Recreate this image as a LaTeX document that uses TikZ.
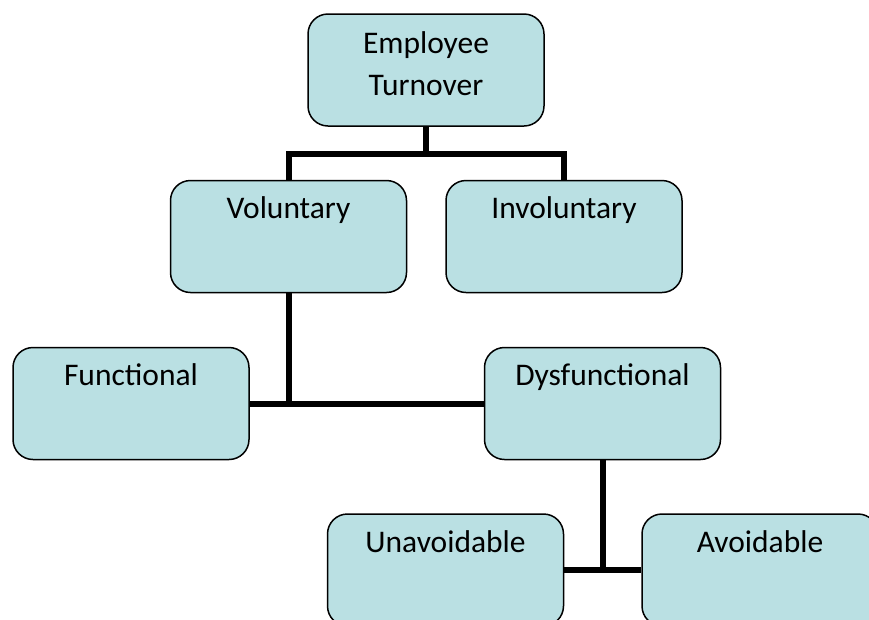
\documentclass[tikz,border=0pt]{standalone}
\usepackage{fontspec}
\setmainfont{Carlito}
\definecolor{boxfill}{RGB}{186,224,227}

\begin{document}
\begin{tikzpicture}[x=1pt,y=-1pt,
  boxnode/.style={rectangle,rounded corners=20pt,draw=black,line width=1.5pt,fill=boxfill,
    minimum width=236pt,minimum height=112pt,inner sep=0pt,
    text height=38pt,text depth=74pt,font=\fontsize{31.5}{42}\selectfont},
  link/.style={line width=6pt}]

\clip (0,0) rectangle (869,619);
\fill[white] (0,0) rectangle (869,619);

\node [boxnode,align=center,text height=81pt,text depth=31pt] (turn) at (426,70) {Employee\\Turnover};

\node [boxnode] (vol)   at (288.5,236.5) {Voluntary};
\node [boxnode] (invol) at (564,236.5)   {Involuntary};

\node [boxnode] (func) at (131,403.5)   {Functional};
\node [boxnode] (dys)  at (602.5,403.5) {Dysfunctional};

\node [boxnode] (unav) at (445.5,570) {Unavoidable};
\node [boxnode] (av)   at (760,570)   {Avoidable};

\draw [link] (turn.south) -- ++(0,27) coordinate (fork);
\draw [link] (fork) -| (vol.north);
\draw [link] (fork) -| (invol.north);

\draw [link] (func.east) -- (dys.west);
\draw [link] (vol.south) -- (vol.south |- func.east);

\draw [link] (unav.east) -- (av.west);
\draw [link] (dys.south) -- (dys.south |- unav.east);

\end{tikzpicture}
\end{document}
